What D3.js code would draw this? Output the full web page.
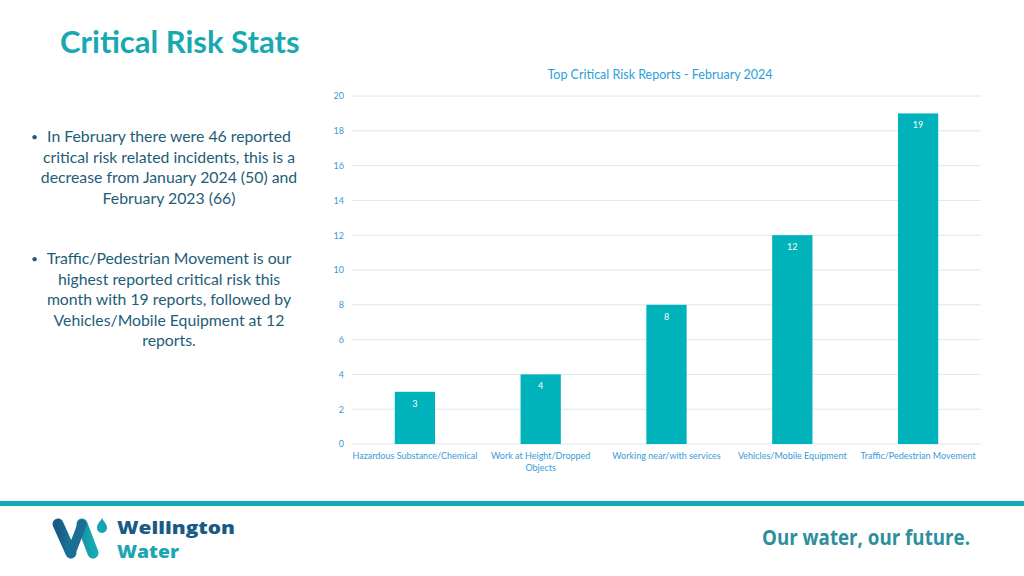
<!DOCTYPE html>
<html><head><meta charset="utf-8">
<script src="https://cdn.jsdelivr.net/npm/d3@7"></script>
<style>
html,body{margin:0;padding:0;background:#fff;}
svg{display:block;}
</style></head>
<body>
<svg id="c" width="1024" height="576"></svg>
<script>
const categories = ["Hazardous Substance/Chemical","Work at Height/Dropped Objects","Working near/with services","Vehicles/Mobile Equipment","Traffic/Pedestrian Movement"];
const categoryLines = [["Hazardous Substance/Chemical"],["Work at Height/Dropped","Objects"],["Working near/with services"],["Vehicles/Mobile Equipment"],["Traffic/Pedestrian Movement"]];
const values = [3, 4, 8, 12, 19];
const yTicks = [0,2,4,6,8,10,12,14,16,18,20];
const pageTitle = "Critical Risk Stats";
const chartTitle = "Top Critical Risk Reports - February 2024";
const bullet1 = ["In February there were 46 reported","critical risk related incidents, this is a","decrease from January 2024 (50) and","February 2023 (66)"];
const bullet2 = ["Traffic/Pedestrian Movement is our","highest reported critical risk this","month with 19 reports, followed by","Vehicles/Mobile Equipment at 12","reports."];

const svg = d3.select("#c");
const font = "Lato, 'Open Sans', sans-serif";

// Page title
svg.append("text").attr("x",60).attr("y",53).attr("font-family",font).attr("font-weight",700)
  .attr("font-size",31).attr("fill","#17a9b1").text(pageTitle);

// Bullets
function bullets(lines, y0, bx){
  svg.append("text").attr("x",bx).attr("y",y0-1).attr("font-family",font).attr("font-size",12)
    .attr("fill","#1e5d78").text("•");
  lines.forEach((l,i)=>{
    svg.append("text").attr("x",169).attr("y",y0+i*20.6).attr("text-anchor","middle")
      .attr("font-family",font).attr("font-size",15.8).attr("fill","#1e5d78").text(l);
  });
}
bullets(bullet1, 142, 31);
bullets(bullet2, 264, 31);

// Chart
const x = d3.scaleBand().domain(categories).range([352,981]).paddingInner(0.68).paddingOuter(0.34);
const y = d3.scaleLinear().domain([0,20]).range([444,96]);

svg.append("text").attr("x",660).attr("y",79).attr("text-anchor","middle").attr("font-family",font)
  .attr("font-size",12.5).attr("fill","#2a9fd6").text(chartTitle);

const grid = svg.append("g");
grid.selectAll("line").data(yTicks).join("line")
  .attr("x1",352).attr("x2",981).attr("y1",d=>y(d)).attr("y2",d=>y(d))
  .attr("stroke","#d6eaf1").attr("stroke-width",1);

const yAxis = svg.append("g").attr("transform","translate(352,0)")
  .call(d3.axisLeft(y).tickValues(yTicks).tickSize(0).tickPadding(8));
yAxis.select(".domain").remove();
yAxis.selectAll("text").attr("font-family",font).attr("font-size",9).attr("fill","#3a9ad6");

svg.append("g").selectAll("rect").data(values).join("rect")
  .attr("x",(d,i)=>x(categories[i])).attr("width",x.bandwidth())
  .attr("y",d=>y(d)).attr("height",d=>y(0)-y(d)).attr("fill","#00b2ba");

svg.append("g").selectAll("text").data(values).join("text")
  .attr("x",(d,i)=>x(categories[i])+x.bandwidth()/2).attr("y",d=>y(d)+15)
  .attr("text-anchor","middle").attr("font-family",font).attr("font-size",9).attr("fill","#ffffff")
  .text(d=>d);

const xl = svg.append("g");
categoryLines.forEach((lines,i)=>{
  const cx = x(categories[i])+x.bandwidth()/2;
  lines.forEach((l,j)=>{
    xl.append("text").attr("x",cx).attr("y",459+j*12).attr("text-anchor","middle")
      .attr("font-family",font).attr("font-size",9).attr("fill","#3a9ad6").text(l);
  });
});

// Footer band
svg.append("rect").attr("x",0).attr("y",501).attr("width",1024).attr("height",5).attr("fill","#12abb5");

// Logo
const defs = svg.append("defs");
const g1 = defs.append("linearGradient").attr("id","lg").attr("x1","0").attr("x2","1").attr("y1","0").attr("y2","0");
g1.append("stop").attr("offset","0").attr("stop-color","#1a5a86");
g1.append("stop").attr("offset","1").attr("stop-color","#17a9b4");
svg.append("path").attr("d","M58,524 L71,553 M82,524 L93,553")
  .attr("stroke","url(#lg)").attr("stroke-width",11).attr("stroke-linecap","round").attr("fill","none");
svg.append("path").attr("d","M71,553 L78,535 L82,524")
  .attr("stroke","#1c6f94").attr("stroke-width",9).attr("stroke-linecap","round").attr("stroke-linejoin","round").attr("fill","none");
svg.append("path").attr("d","M102,518 C104,522 107,524 107,528 A5,5 0 1 1 97,528 C97,524 100,522 102,518 Z")
  .attr("fill","#18a3b4");
svg.append("text").attr("x",117).attr("y",534).attr("font-family","'Open Sans', sans-serif").attr("font-weight",800)
  .attr("font-size",18).attr("fill","#1b5a84").attr("textLength",118).attr("lengthAdjust","spacingAndGlyphs").text("Wellington");
svg.append("text").attr("x",117).attr("y",558).attr("font-family","'Open Sans', sans-serif").attr("font-weight",800)
  .attr("font-size",18).attr("fill","#1aa6b3").attr("textLength",62).attr("lengthAdjust","spacingAndGlyphs").text("Water");

svg.append("text").attr("x",762).attr("y",545).attr("font-family","'Open Sans', sans-serif").attr("font-weight",700)
  .attr("font-size",21).attr("fill","#2d8f9c").attr("textLength",208).attr("lengthAdjust","spacingAndGlyphs")
  .text("Our water, our future.");
</script>
</body></html>
